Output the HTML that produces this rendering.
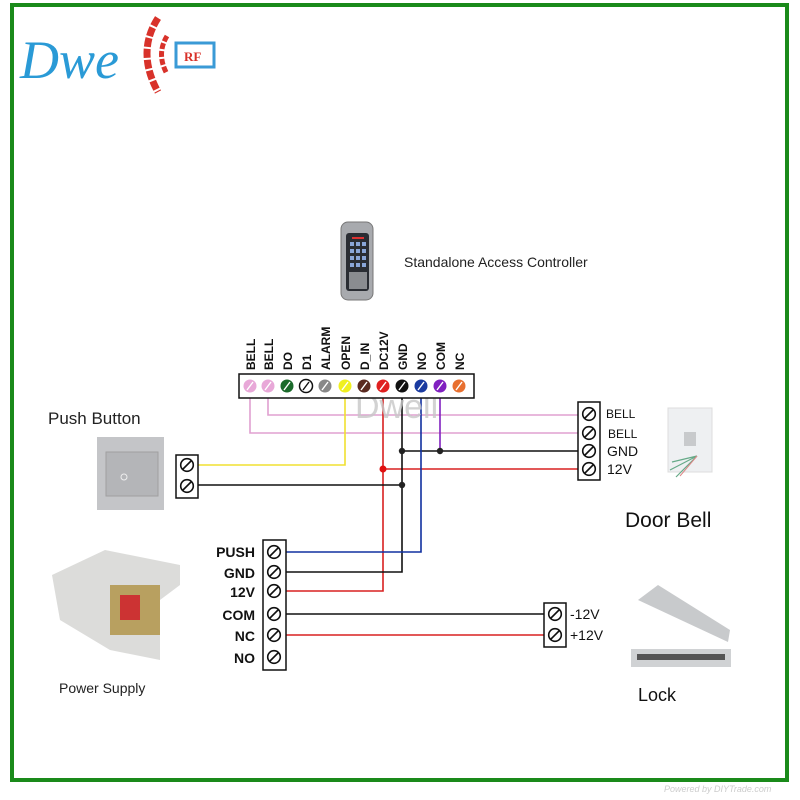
<!DOCTYPE html>
<html><head><meta charset="utf-8"><style>
html,body{margin:0;padding:0;background:#fff;width:800px;height:800px;overflow:hidden}
svg{display:block}
</style></head><body>
<svg width="800" height="800" viewBox="0 0 800 800" xmlns="http://www.w3.org/2000/svg" style="font-family:'Liberation Sans',sans-serif">
<defs>
<g id="scr"><circle r="6.3" fill="#fff" stroke="#111" stroke-width="1.6"/><line x1="-4" y1="4" x2="4" y2="-4" stroke="#111" stroke-width="1.6"/></g>
</defs>
<rect x="12" y="5" width="775" height="775" fill="none" stroke="#1a8a1a" stroke-width="4"/>
<text x="664" y="792" font-size="9" fill="#ccc" font-style="italic">Powered by DIYTrade.com</text>

<!-- logo -->
<text x="20" y="78" style="font-family:'Liberation Serif',serif;font-style:italic" font-size="54" fill="#2a9ad6">Dwe</text>
<g fill="none" stroke="#d8322a" stroke-width="7" stroke-dasharray="9 2">
<path d="M158 18 Q136 52 158 92"/></g>
<g fill="none" stroke="#d8322a" stroke-width="5" stroke-dasharray="6 2">
<path d="M167 36 Q156 54 167 74"/></g>
<rect x="176" y="43" width="38" height="24" fill="none" stroke="#3a9ad6" stroke-width="3"/>
<text x="184" y="61" font-size="13" style="font-family:'Liberation Serif',serif;font-weight:bold" fill="#d8322a">RF</text>

<!-- keypad -->
<rect x="341" y="222" width="32" height="78" rx="7" fill="#a8aaae" stroke="#777"/>
<rect x="346" y="233" width="23" height="58" rx="3" fill="#2a2d33"/>
<rect x="352" y="237" width="12" height="2" fill="#d33"/>
<g fill="#8aa6d8">
<rect x="350" y="242" width="4" height="4"/><rect x="356" y="242" width="4" height="4"/><rect x="362" y="242" width="4" height="4"/>
<rect x="350" y="249" width="4" height="4"/><rect x="356" y="249" width="4" height="4"/><rect x="362" y="249" width="4" height="4"/>
<rect x="350" y="256" width="4" height="4"/><rect x="356" y="256" width="4" height="4"/><rect x="362" y="256" width="4" height="4"/>
<rect x="350" y="263" width="4" height="4"/><rect x="356" y="263" width="4" height="4"/><rect x="362" y="263" width="4" height="4"/>
</g>
<rect x="349" y="272" width="18" height="17" fill="#8a8c90"/>
<text x="404" y="267" font-size="14" fill="#222">Standalone Access Controller</text>

<!-- terminal labels -->
<g font-size="12" font-weight="bold" fill="#111">
<text transform="translate(255,370) rotate(-90)">BELL</text>
<text transform="translate(273,370) rotate(-90)">BELL</text>
<text transform="translate(292,370) rotate(-90)">DO</text>
<text transform="translate(311,370) rotate(-90)">D1</text>
<text transform="translate(330,370) rotate(-90)">ALARM</text>
<text transform="translate(350,370) rotate(-90)">OPEN</text>
<text transform="translate(369,370) rotate(-90)">D_IN</text>
<text transform="translate(388,370) rotate(-90)">DC12V</text>
<text transform="translate(407,370) rotate(-90)">GND</text>
<text transform="translate(426,370) rotate(-90)">NO</text>
<text transform="translate(445,370) rotate(-90)">COM</text>
<text transform="translate(464,370) rotate(-90)">NC</text>
</g>

<!-- wires -->
<g fill="none" stroke-width="1.6">
<polyline points="250,398 250,433 578,433" stroke="#e0a0d0"/>
<polyline points="268,398 268,415 578,415" stroke="#e0a0d0"/>
<polyline points="345,398 345,465 198,465" stroke="#f0e030"/>
<polyline points="383,398 383,591 286,591" stroke="#d82020"/>
<polyline points="383,469 578,469" stroke="#d82020"/>
<polyline points="402,398 402,572 286,572" stroke="#111"/>
<polyline points="402,451 578,451" stroke="#111"/>
<polyline points="402,485 198,485" stroke="#111"/>
<polyline points="421,398 421,552 286,552" stroke="#1030a0"/>
<polyline points="440,398 440,451" stroke="#8020c0"/>
<polyline points="286,614 547,614" stroke="#111"/>
<polyline points="286,635 547,635" stroke="#d82020"/>
</g>
<circle cx="402" cy="451" r="3.2" fill="#222"/><circle cx="440" cy="451" r="3.2" fill="#222"/>
<circle cx="402" cy="485" r="3.2" fill="#222"/><circle cx="383" cy="469" r="3.5" fill="#e01010"/>

<text x="355" y="418" font-size="34" fill="#c8c8c8" opacity="0.8">Dwell</text>

<!-- terminal strip -->
<rect x="239" y="374" width="235" height="24" fill="#fff" stroke="#111" stroke-width="1.5"/>
<g stroke-width="1.5">
<circle cx="250" cy="386" r="6.5" fill="#e8a8d8"/><circle cx="268" cy="386" r="6.5" fill="#e8a8d8"/>
<circle cx="287" cy="386" r="6.5" fill="#1a6a2a"/><circle cx="306" cy="386" r="6.5" fill="#fff" stroke="#111"/>
<circle cx="325" cy="386" r="6.5" fill="#888"/><circle cx="345" cy="386" r="6.5" fill="#f0f020"/>
<circle cx="364" cy="386" r="6.5" fill="#5a2a20"/><circle cx="383" cy="386" r="6.5" fill="#e02020"/>
<circle cx="402" cy="386" r="6.5" fill="#111"/><circle cx="421" cy="386" r="6.5" fill="#1a3aa0"/>
<circle cx="440" cy="386" r="6.5" fill="#8020c0"/><circle cx="459" cy="386" r="6.5" fill="#e87030"/>
</g>
<g stroke="#fff" stroke-width="1.4">
<line x1="247" y1="390" x2="253" y2="382"/><line x1="265" y1="390" x2="271" y2="382"/><line x1="284" y1="390" x2="290" y2="382"/>
<line x1="303" y1="390" x2="309" y2="382" stroke="#111"/><line x1="322" y1="390" x2="328" y2="382"/><line x1="342" y1="390" x2="348" y2="382"/>
<line x1="361" y1="390" x2="367" y2="382"/><line x1="380" y1="390" x2="386" y2="382"/><line x1="399" y1="390" x2="405" y2="382"/>
<line x1="418" y1="390" x2="424" y2="382"/><line x1="437" y1="390" x2="443" y2="382"/><line x1="456" y1="390" x2="462" y2="382"/>
</g>

<!-- push button -->
<text x="48" y="424" font-size="17" fill="#222">Push Button</text>
<rect x="97" y="437" width="67" height="73" fill="#c4c5c8"/>
<rect x="106" y="452" width="52" height="44" fill="#b4b5b8" stroke="#a0a0a0"/>
<circle cx="124" cy="477" r="3" fill="none" stroke="#eee"/>
<rect x="176" y="455" width="22" height="43" fill="#fff" stroke="#111" stroke-width="1.5"/>
<use href="#scr" x="187" y="465"/><use href="#scr" x="187" y="486"/>

<!-- door bell -->
<rect x="578" y="402" width="22" height="78" fill="#fff" stroke="#111" stroke-width="1.5"/>
<use href="#scr" x="589" y="414"/><use href="#scr" x="589" y="433"/><use href="#scr" x="589" y="451"/><use href="#scr" x="589" y="469"/>
<g font-size="12" fill="#111"><text x="606" y="418">BELL</text><text x="608" y="438">BELL</text>
<text x="607" y="456" font-size="14">GND</text><text x="607" y="474" font-size="14">12V</text></g>
<rect x="668" y="408" width="44" height="64" fill="#eef0f2" stroke="#ddd"/>
<rect x="684" y="432" width="12" height="14" fill="#c8cacc"/>
<path d="M697 456 L670 470 M697 456 L676 477 M697 456 L672 462" stroke="#6a8" stroke-width="1.2" fill="none"/>
<path d="M697 456 L680 476" stroke="#d88" stroke-width="1"/>
<text x="625" y="527" font-size="21" fill="#111">Door Bell</text>

<!-- power supply -->
<path d="M52 575 L105 550 L180 565 L180 585 L160 600 L160 660 L110 650 L60 620 Z" fill="#dcdcda"/>
<rect x="110" y="585" width="50" height="50" fill="#b8a060"/>
<rect x="120" y="595" width="20" height="25" fill="#c33"/>
<text x="59" y="693" font-size="14" fill="#222">Power Supply</text>
<rect x="263" y="540" width="23" height="130" fill="#fff" stroke="#111" stroke-width="1.5"/>
<use href="#scr" x="274" y="552"/><use href="#scr" x="274" y="572"/><use href="#scr" x="274" y="591"/>
<use href="#scr" x="274" y="614"/><use href="#scr" x="274" y="635"/><use href="#scr" x="274" y="657"/>
<g font-size="14" fill="#111" font-weight="bold" text-anchor="end">
<text x="255" y="557">PUSH</text><text x="255" y="578">GND</text><text x="255" y="597">12V</text>
<text x="255" y="620">COM</text><text x="255" y="641">NC</text><text x="255" y="663">NO</text></g>

<!-- lock -->
<rect x="544" y="603" width="22" height="44" fill="#fff" stroke="#111" stroke-width="1.5"/>
<use href="#scr" x="555" y="614"/><use href="#scr" x="555" y="635"/>
<g font-size="14" fill="#111"><text x="570" y="619">-12V</text><text x="570" y="640">+12V</text></g>
<path d="M638 600 L658 585 L730 630 L728 642 Z" fill="#c8cacc"/>
<rect x="631" y="649" width="100" height="18" fill="#d0d2d4"/>
<rect x="637" y="654" width="88" height="6" fill="#555"/>
<text x="638" y="701" font-size="18" fill="#111">Lock</text>
</svg>
</body></html>
